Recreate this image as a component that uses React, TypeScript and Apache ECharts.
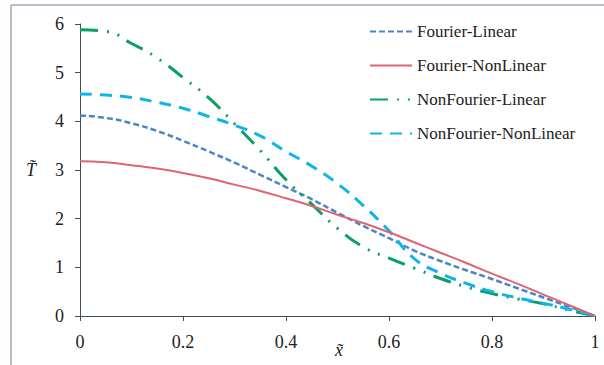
import React, { useEffect, useRef } from "react";
import * as echarts from "echarts";

const xs = [0, 0.05, 0.1, 0.15, 0.2, 0.25, 0.3, 0.35, 0.4, 0.45, 0.5, 0.55, 0.6, 0.65, 0.7, 0.75, 0.8, 0.85, 0.9, 0.95, 1];
const fourierLinear = [4.12, 4.07, 3.96, 3.8, 3.6, 3.38, 3.15, 2.9, 2.65, 2.4, 2.12, 1.85, 1.6, 1.34, 1.13, 0.94, 0.76, 0.57, 0.38, 0.19, 0];
const fourierNonLinear = [3.18, 3.16, 3.1, 3.03, 2.94, 2.83, 2.7, 2.57, 2.42, 2.26, 2.08, 1.91, 1.72, 1.51, 1.3, 1.09, 0.87, 0.66, 0.44, 0.22, 0];
const nonFourierLinear = [5.88, 5.85, 5.6, 5.3, 4.9, 4.48, 3.95, 3.4, 2.8, 2.3, 1.8, 1.42, 1.19, 0.98, 0.77, 0.6, 0.46, 0.35, 0.25, 0.12, 0];
const nonFourierNonLinear = [4.56, 4.54, 4.49, 4.39, 4.27, 4.1, 3.92, 3.7, 3.38, 3.08, 2.72, 2.27, 1.75, 1.17, 0.88, 0.67, 0.5, 0.37, 0.26, 0.14, 0];

const seriesNames = ["Fourier-Linear", "Fourier-NonLinear", "NonFourier-Linear", "NonFourier-NonLinear"];
const xAxisName = "x\u0303";
const yAxisName = "T\u0303";

const SERIF = "'Liberation Serif', 'DejaVu Serif', serif";
const AXIS = "#3d4f5c";

function pairs(v: number[]) {
  return xs.map((x, i) => [x, v[i]]);
}

export default function App() {
  const ref = useRef<HTMLDivElement>(null);
  useEffect(() => {
    if (!ref.current) return;
    const chart = echarts.init(ref.current, undefined, { renderer: "svg" });
    const styles = [
      { color: "#4a86c6", width: 2.5, type: [6, 3] },
      { color: "#e0646f", width: 2, type: "solid" },
      { color: "#0aa063", width: 3, type: [18, 9, 2, 9, 2, 9] },
      { color: "#10b4ea", width: 3, type: [12, 8] },
    ];
    const data = [fourierLinear, fourierNonLinear, nonFourierLinear, nonFourierNonLinear];
    chart.setOption({
      animation: false,
      backgroundColor: "#ffffff",
      grid: { left: 80, right: 9, top: 24, bottom: 49, containLabel: false, outerBoundsMode: "none" },
      legend: {
        orient: "vertical",
        left: 364,
        top: 18,
        itemWidth: 42,
        itemHeight: 14,
        itemGap: 17,
        itemStyle: { opacity: 0 },
        textStyle: { fontFamily: SERIF, fontSize: 17, color: "#222" },
        data: seriesNames,
      },
      xAxis: {
        type: "value",
        min: 0,
        max: 1,
        interval: 0.2,
        axisLine: { lineStyle: { color: AXIS, width: 1 } },
        axisTick: { show: true, length: 5, lineStyle: { color: AXIS } },
        axisLabel: { fontFamily: SERIF, fontSize: 18, color: "#222", margin: 17 },
        splitLine: { show: false },
      },
      yAxis: {
        type: "value",
        min: 0,
        max: 6,
        interval: 1,
        name: yAxisName,
        nameLocation: "middle",
        nameRotate: 0,
        nameGap: 44,
        nameTextStyle: { fontFamily: SERIF, fontSize: 18, fontStyle: "italic", color: "#222" },
        axisLine: { show: true, lineStyle: { color: AXIS, width: 1 } },
        axisTick: { show: true, length: 5, lineStyle: { color: AXIS } },
        axisLabel: { fontFamily: SERIF, fontSize: 18, color: "#222", margin: 16 },
        splitLine: { show: false },
      },
      series: seriesNames.map((n, i) => ({
        name: n,
        type: "line",
        smooth: true,
        showSymbol: false,
        symbol: "none",
        data: pairs(data[i]),
        lineStyle: styles[i],
        itemStyle: { color: styles[i].color },
        z: i === 1 ? 3 : 2,
      })),
      graphic: [
        { type: "line", shape: { x1: 11, y1: 5, x2: 604, y2: 5 }, style: { stroke: "#b8bdcb", lineWidth: 2 } },
        { type: "line", shape: { x1: 11, y1: 5, x2: 11, y2: 365 }, style: { stroke: "#b8bdcb", lineWidth: 2 } },
        {
          type: "text",
          x: 339,
          y: 350,
          style: {
            text: xAxisName,
            fontFamily: SERIF,
            fontSize: 18,
            fontStyle: "italic",
            fill: "#222",
            align: "center",
            verticalAlign: "middle",
          },
        },
      ],
    });
    return () => chart.dispose();
  }, []);
  return <div ref={ref} style={{ position: "fixed", left: 0, top: 0, width: 604, height: 365 }} />;
}
